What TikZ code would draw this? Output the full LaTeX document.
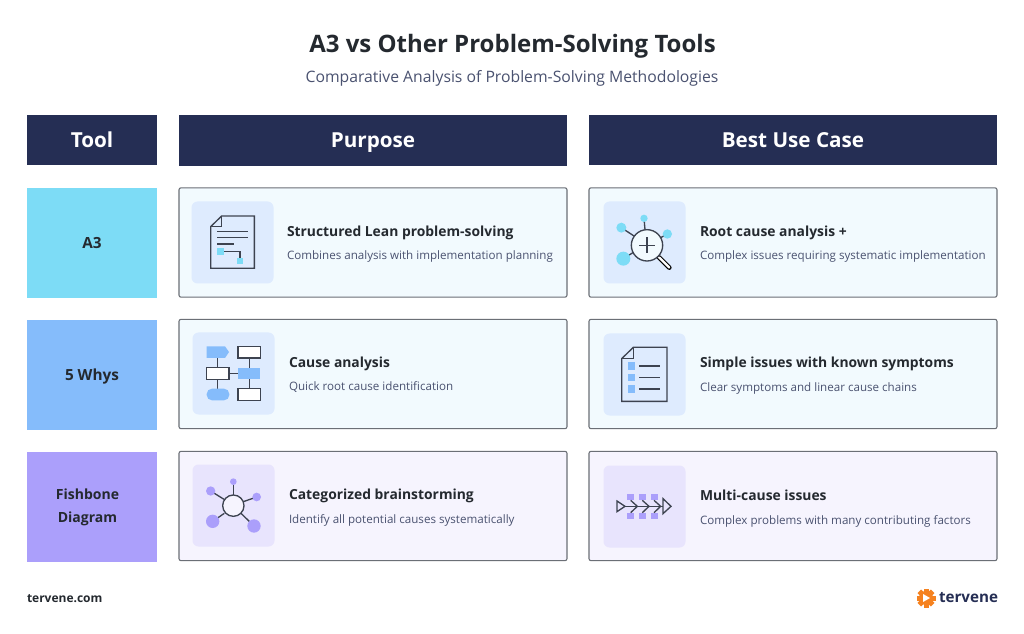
\documentclass[tikz,border=0pt]{standalone}
\usepackage{fontspec}
\setmainfont{Open Sans}
\usetikzlibrary{positioning}

\definecolor{navy}{HTML}{252E54}
\definecolor{ink}{HTML}{24292F}
\definecolor{slate}{HTML}{4A5270}
\definecolor{edge}{HTML}{6B6F76}
\definecolor{stroke}{HTML}{3D4350}
\definecolor{sky}{HTML}{7DDCF6}
\definecolor{azure}{HTML}{85BCFB}
\definecolor{violet}{HTML}{AB9FFB}
\definecolor{cardblue}{HTML}{F2FAFE}
\definecolor{cardviolet}{HTML}{F6F4FE}
\definecolor{tileblue}{HTML}{DEEBFE}
\definecolor{tileviolet}{HTML}{E8E4FD}
\definecolor{orange}{HTML}{F58220}

\begin{document}
\begin{tikzpicture}[
	x=0.75pt,
	y=-0.75pt,
	every node/.style={inner sep=0pt,outer sep=0pt},
	maintitle/.style={font=\bfseries\fontsize{18}{21}\selectfont,text=ink},
	subtitle/.style={font=\fontsize{11.8}{14}\selectfont,text=slate},
	headbox/.style={fill=navy,text=white,minimum height=37.5pt,text height=11pt,text depth=0pt,font=\bfseries\fontsize{15.5}{18}\selectfont},
	toolcell/.style={minimum width=97.5pt,minimum height=82.5pt,text=ink,text height=8pt,text depth=0pt,font=\bfseries\fontsize{11.5}{18}\selectfont},
	card/.style={draw=edge,line width=0.8pt,rounded corners=1.5pt,minimum height=82pt},
	tile/.style={rounded corners=4.5pt,minimum size=61.5pt},
	cardhead/.style={anchor=base west,font=\bfseries\fontsize{10.4}{12}\selectfont,text=ink},
	cardtext/.style={anchor=base west,font=\fontsize{8.7}{10}\selectfont,text=slate},
	icongrid/.style 2 args={shift={(#1,#2)},x=0.25pt,y=-0.25pt},
	iconline/.style={draw=stroke,line width=1pt},
	iconbox/.style={draw=stroke,line width=1pt,fill=#1},
	iconbox/.default=white
]

\useasboundingbox (0,0) rectangle (1024,634);
\fill[white] (0,0) rectangle (1024,634);

\node[maintitle] (title) at (512.5,46) {A3 vs Other Problem-Solving Tools};
\node[subtitle] (subhead) at (512,78) {Comparative Analysis of Problem-Solving Methodologies};

\node[headbox,minimum width=97.5pt] (headtool) at (92,140) {Tool};
\node[headbox,minimum width=291pt,minimum height=38.25pt] (headpurpose) at (373,140.5) {Purpose};
\node[headbox,minimum width=306pt] (headcase) at (793,140) {Best Use Case};

\node[toolcell,fill=sky] (cella) at (92,243) {A3};
\node[toolcell,fill=azure] (cellwhys) at (92,375) {5 Whys};
\node[toolcell,fill=violet] (cellfish) at (92,507) {};
\node[align=center,text=ink,font=\bfseries\fontsize{10.5}{17.5}\selectfont] (fishlabel) at (87.5,507.5) {Fishbone\\Diagram};

\node[card,fill=cardblue,minimum width=291pt] (carda) at (373,242.5) {};
\node[card,fill=cardblue,minimum width=306pt] (cardb) at (793,242.5) {};
\node[card,fill=cardblue,minimum width=291pt] (cardc) at (373,374) {};
\node[card,fill=cardblue,minimum width=306pt] (cardd) at (793,374) {};
\node[card,fill=cardviolet,minimum width=291pt] (carde) at (373,506) {};
\node[card,fill=cardviolet,minimum width=306pt] (cardf) at (793,506) {};

\node[tile,fill=tileblue] (tilea) at (232.5,242.5) {};
\node[tile,fill=tileblue] (tileb) at (644.5,242.5) {};
\node[tile,fill=tileblue] (tilec) at (233.5,373.5) {};
\node[tile,fill=tileblue] (tiled) at (644.5,374.5) {};
\node[tile,fill=tileviolet] (tilee) at (233.5,505.5) {};
\node[tile,fill=tileviolet] (tilef) at (644.5,506.5) {};

\node[cardhead] (heada) at (287,237) {Structured Lean problem-solving};
\node[cardtext] (texta) at (287,260) {Combines analysis with implementation planning};
\node[cardhead] (headb) at (700,237) {Root cause analysis +};
\node[cardtext] (textb) at (700,260) {Complex issues requiring systematic implementation};
\node[cardhead] (headc) at (289,368) {Cause analysis};
\node[cardtext] (textc) at (289,391) {Quick root cause identification};
\node[cardhead] (headd) at (700,368) {Simple issues with known symptoms};
\node[cardtext] (textd) at (700,392) {Clear symptoms and linear cause chains};
\node[cardhead] (heade) at (289,499) {Categorized brainstorming};
\node[cardtext] (texte) at (289,523) {Identify all potential causes systematically};
\node[cardhead] (headf) at (700,500) {Multi-cause issues};
\node[cardtext] (textf) at (700,524) {Complex problems with many contributing factors};

% document icon
\begin{scope}[icongrid={180}{185}]
	\draw[iconline] (125,93) -- (223,93) -- (223,250) -- (92,250) -- (92,125) -- cycle;
	\draw[iconline] (125,93) -- (125,125) -- (92,125);
	\draw[iconline] (112,140) -- (203,140);
	\draw[iconline] (112,158) -- (203,158);
	\draw[iconline] (112,177) -- (163,177);
	\draw[iconline] (133,200) -- (180,200) -- (180,218);
	\fill[sky] (112,190) rectangle (133,210);
	\fill[sky] (170,218) rectangle (190,238);
\end{scope}

% magnifier icon
\begin{scope}[icongrid={590}{185}]
	\draw[iconline] (94,128) -- (132,153);
	\draw[iconline] (162,100) -- (165,134);
	\draw[iconline] (232,147) -- (212,158);
	\draw[iconline] (100,221) -- (132,201);
	\fill[sky] (94,128) circle (15);
	\fill[sky] (162,100) circle (11);
	\fill[sky] (232,147) circle (14);
	\fill[sky] (100,221) circle (21);
	\draw[stroke,line width=3.4pt,line cap=round] (207,217) -- (238,248);
	\draw[white,line width=1.7pt,line cap=round] (207,217) -- (238,248);
	\draw[iconline,fill=cardblue] (171,181) circle (47);
	\draw[iconline] (147,181) -- (195,181);
	\draw[iconline] (171,157) -- (171,205);
\end{scope}

% flowchart icon
\begin{scope}[icongrid={180}{318}]
	\draw[iconline] (113,120) -- (113,212);
	\draw[iconline] (208,120) -- (208,212);
	\draw[iconline] (147,166) -- (174,166);
	\fill[azure] (80,85) -- (135,85) -- (147,102) -- (135,120) -- (80,120) -- cycle;
	\draw[iconbox] (174,85) rectangle (241,120);
	\draw[iconbox] (80,149) rectangle (147,184);
	\fill[azure] (174,149) rectangle (241,184);
	\fill[azure,rounded corners=4pt] (80,212) rectangle (148,247);
	\draw[iconbox] (174,212) rectangle (241,247);
\end{scope}

% checklist icon
\begin{scope}[icongrid={590}{318}]
	\draw[iconline] (130,88) -- (231,88) -- (231,250) -- (95,250) -- (95,122) -- cycle;
	\draw[iconline] (130,88) -- (130,122) -- (95,122);
	\fill[azure] (115,133) rectangle (136,155);
	\fill[azure] (115,168) rectangle (136,190);
	\fill[azure] (115,202) rectangle (136,224);
	\draw[iconline] (148,144) -- (210,144);
	\draw[iconline] (148,179) -- (210,179);
	\draw[iconline] (148,213) -- (210,213);
\end{scope}

% hub icon
\begin{scope}[icongrid={180}{450}]
	\draw[iconline] (92,123) -- (132,148);
	\draw[iconline] (160,95) -- (160,135);
	\draw[iconline] (230,141) -- (190,155);
	\draw[iconline] (98,214) -- (133,190);
	\draw[iconline] (222,228) -- (183,190);
	\fill[violet] (92,123) circle (14);
	\fill[violet] (160,95) circle (10);
	\fill[violet] (230,141) circle (13);
	\fill[violet] (98,214) circle (20);
	\fill[violet] (222,228) circle (20);
	\draw[iconline,fill=cardviolet] (160,167) circle (32);
\end{scope}

% fish icon
\begin{scope}[icongrid={590}{450}]
	\fill[violet] (112,132) rectangle (132,151);
	\fill[violet] (147,132) rectangle (168,151);
	\fill[violet] (182,132) rectangle (203,151);
	\fill[violet] (112,188) rectangle (132,207);
	\fill[violet] (147,188) rectangle (168,207);
	\fill[violet] (182,188) rectangle (203,207);
	\draw[iconline] (81,153) -- (81,185) -- (105,169) -- cycle;
	\draw[iconline] (105,169) -- (219,169);
	\draw[iconline] (219,146) -- (219,191) -- (243,169) -- cycle;
	\draw[iconline] (122,151) -- (142,169) -- (122,188);
	\draw[iconline] (157,151) -- (177,169) -- (157,188);
	\draw[iconline] (192,151) -- (212,169) -- (192,188);
\end{scope}

\node[anchor=base west,font=\bfseries\fontsize{9}{12}\selectfont,text=ink] (site) at (27,602) {tervene.com};

% logo gear
\foreach \a in {0,45,...,315} {
	\fill[orange,rotate around={\a:(926,598)}] (923.5,588.5) rectangle (928.5,592);
}
\fill[orange] (926,598) circle (7);
\fill[white] (923,594) -- (923,602) -- (930,598) -- cycle;
\node[anchor=base west,font=\bfseries\fontsize{11.4}{15}\selectfont,text=navy] (brand) at (939,602.5) {tervene};

\end{tikzpicture}
\end{document}
